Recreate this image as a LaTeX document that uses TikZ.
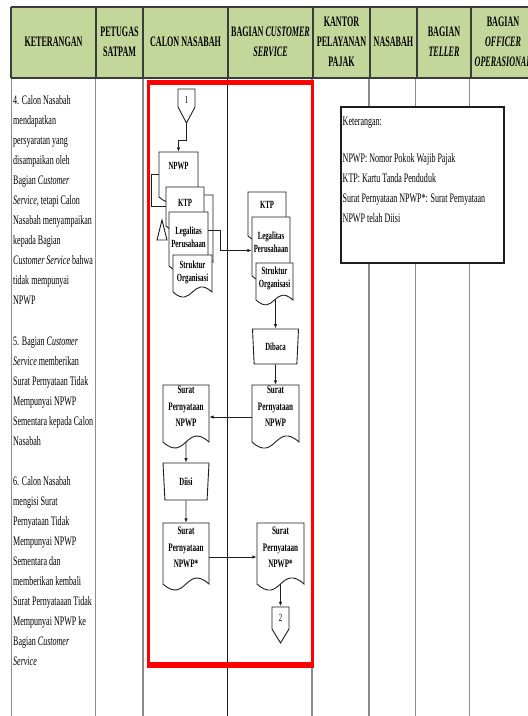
\documentclass[tikz,border=0pt]{standalone}
\usepackage{fontspec}
\setmainfont{Liberation Serif}[FakeStretch=0.62]
\newfontfamily\hdrfont{Liberation Serif}[FakeStretch=0.56]
\usetikzlibrary{shapes.geometric,arrows.meta,calc}
\definecolor{hdrgreen}{RGB}{196,215,155}
\definecolor{hdrline}{RGB}{60,60,60}
\definecolor{colgray}{RGB}{140,140,140}
\definecolor{boxred}{RGB}{255,0,0}
\definecolor{ink}{RGB}{30,30,30}

\newcommand{\docshape}[8]{%
  \pgfmathsetmacro{\dsW}{#4-#2}%
  \pgfmathsetmacro{\dsM}{(#2+#4)/2}%
  \pgfmathsetmacro{\dsC}{0.45*\dsW}%
  \pgfmathsetmacro{\dsH}{#5-#3}%
  \pgfmathsetmacro{\dsY}{(#3+#5)/2}%
  \filldraw[docline] (#2,#3) -- (#4,#3) -- (#4,#5) .. controls (\dsM,{#5-\dsC}) and (\dsM,{#5+\dsC}) .. (#2,#5) -- cycle;
  \node[inner sep=0,minimum width=\dsW bp,minimum height=\dsH bp] (#1) at (\dsM,\dsY) {};
  \node[#8] (#1-t) at (\dsM,{\dsY+#6}) {#7};
}
\newcommand{\offpage}[6]{%
  \filldraw[docline] ({#2-8.5},#3) -- ({#2+8.5},#3) -- ({#2+8.5},#4) -- (#2,#5) -- ({#2-8.5},#4) -- cycle;
  \node[inner sep=0,minimum width=17bp,minimum height=1bp] (#1) at (#2,#3) {};
  \coordinate (#1-tip) at (#2,#5);
  \node[inner sep=0,font=\fontsize{11}{12}\selectfont] (#1-t) at (#2,{#3+11}) {#6};
}

\begin{document}
\begin{tikzpicture}[x=1bp,y=-1bp,
  docline/.style={draw=ink,line width=0.9bp,fill=white},
  conn/.style={draw=ink,line width=0.9bp,-{Latex[length=4.5bp,width=3.5bp]}},
  plain/.style={draw=ink,line width=0.9bp},
  dtext/.style={inner sep=0,align=center,font=\bfseries\fontsize{11}{13.5}\selectfont},
  stext/.style={inner sep=0,align=center,font=\bfseries\fontsize{11.5}{16.5}\selectfont},
  hdr/.style={inner sep=0,align=center,font=\hdrfont\bfseries\fontsize{14.5}{20}\selectfont},
  colline/.style={draw=colgray,line width=1.3bp},
  trap/.style={trapezium,docline,shape border rotate=180,trapezium stretches body,inner sep=0,font=\bfseries\fontsize{11}{13}\selectfont}]
\useasboundingbox (0,0) rectangle (528,716);
\clip (0,0) rectangle (528,716);
\fill[white] (0,0) rectangle (528,716);

% body column lines
\foreach \cx in {11.5,95.5,143,312,369,415.5,469.5}
  \draw[colline] (\cx,78) -- (\cx,716);
\draw[draw=ink,line width=1.3bp] (227.5,78) -- (227.5,716);

% header
\fill[hdrgreen] (11,7) rectangle (540,78);
\draw[hdrline,line width=1.5bp] (11,7) -- (540,7) (11,78) -- (540,78);
\foreach \cx in {11,96,143,228,313,370,417,471}
  \draw[hdrline,line width=1.5bp] (\cx,7) -- (\cx,78);
\node[hdr] (h1) at (53.5,42) {KETERANGAN};
\node[hdr] (h2) at (119.5,42) {PETUGAS\\SATPAM};
\node[hdr] (h3) at (185.5,42) {CALON NASABAH};
\node[hdr] (h4) at (270.5,42) {BAGIAN \textit{CUSTOMER}\\\textit{SERVICE}};
\node[hdr] (h5) at (341.5,42) {KANTOR\\PELAYANAN\\PAJAK};
\node[hdr] (h6) at (393.5,42) {NASABAH};
\node[hdr] (h7) at (444,42) {BAGIAN\\\textit{TELLER}};
\node[hdr] (h8) at (503,42) {BAGIAN\\\textit{OFFICER}\\\textit{OPERASIONAL}};

% left description text
\node[anchor=north west,inner sep=0,align=left,font=\fontsize{13}{20.1}\selectfont] (desc) at (13,95.5) {%
4. Calon Nasabah\\
mendapatkan\\
persyaratan yang\\
disampaikan oleh\\
Bagian \textit{Customer}\\
\textit{Service}, tetapi Calon\\
Nasabah menyampaikan\\
kepada Bagian\\
\textit{Customer Service} bahwa\\
tidak mempunyai\\
NPWP\\[20.1bp]
5. Bagian \textit{Customer}\\
\textit{Service} memberikan\\
Surat Pernyataan Tidak\\
Mempunyai NPWP\\
Sementara kepada Calon\\
Nasabah\\[20.1bp]
6. Calon Nasabah\\
mengisi Surat\\
Pernyataan Tidak\\
Mempunyai NPWP\\
Sementara dan\\
memberikan kembali\\
Surat Pernyataaan Tidak\\
Mempunyai NPWP ke\\
Bagian \textit{Customer}\\
\textit{Service}};

% legend box
\node[draw=ink,fill=white,line width=1.3bp,minimum width=163bp,minimum height=156bp,inner sep=0] (legend) at (422.5,185) {};
\node[anchor=north west,inner sep=0,align=left,font=\fontsize{13}{20}\selectfont] (legendtext) at (342.5,117) {%
Keterangan:\\[17bp]
NPWP: Nomor Pokok Wajib Pajak\\
KTP: Kartu Tanda Penduduk\\
Surat Pernyataan NPWP*: Surat Pernyataan\\
NPWP telah Diisi};

% red frame
\draw[boxred,line width=3bp] (148.5,82.5) -- (148.5,665) (312.5,82.5) -- (312.5,665);
\draw[boxred,line width=5bp] (147,82.5) -- (314,82.5);
\draw[boxred,line width=6.5bp] (147,665) -- (314,665);

% connector 1
\offpage{cA}{186.5}{89}{107}{123}{1}

% left document stack
\docshape{npwp}{159}{152}{198}{197}{-9}{NPWP}{dtext}
\docshape{kshadow}{175}{195}{213}{262}{0}{}{dtext}
\docshape{ktpL}{166}{187}{204}{226}{-4}{KTP}{dtext}
\docshape{legL}{169}{212}{208}{266}{-2}{Legalitas\\Perusahaan}{dtext}
\docshape{strL}{173}{255}{212}{292}{-1}{Struktur\\Organisasi}{dtext}
\draw[docline] (162,220) -- (167,240) -- (157,240) -- cycle;

% right document stack
\docshape{ktpR}{248}{192}{286}{236}{-9}{KTP}{dtext}
\docshape{legR}{252}{217}{290}{276}{-4}{Legalitas\\Perusahaan}{dtext}
\docshape{strR}{256}{263}{293}{300}{-3}{Struktur\\Organisasi}{dtext}

% process symbols
\node[trap,trapezium left angle=78,trapezium right angle=78,minimum width=46bp,minimum height=35bp] (dibaca) at (275.5,346.5) {Dibaca};
\docshape{suratR}{252}{385}{299}{442}{-7}{Surat\\Pernyataan\\NPWP}{stext}
\docshape{suratL}{163}{385}{209}{442}{-7}{Surat\\Pernyataan\\NPWP}{stext}
\node[trap,trapezium left angle=76,trapezium right angle=76,minimum width=46bp,minimum height=37bp] (diisi) at (186,481.5) {Diisi};
\docshape{isiL}{163}{523}{209}{584}{-6}{Surat\\Pernyataan\\NPWP*}{stext}
\docshape{isiR}{257}{523}{304}{584}{-6}{Surat\\Pernyataan\\NPWP*}{stext}

% connector 2
\offpage{cB}{280.5}{607}{629}{643}{2}

% connectors
\draw[conn] (cA-tip) -- ++(0,17) -| (npwp.north);
\draw[plain] (npwp.west) -- ++(-7,0) |- (ktpL.west);
\draw[conn] ($(legL.east)+(0,-8.5)$) -- ++(12,0) |- ($(legR.west)+(0,4)$);
\draw[conn] (dibaca.north |- strR.south) -- (dibaca.north);
\draw[conn] (dibaca.south) -- (suratR.north);
\draw[conn] ($(suratR.west)+(0,3.5)$) coordinate (sa) -- (sa -| suratL.east);
\draw[conn] (suratL.south) -- (diisi.north);
\draw[conn] (diisi.south) -- (isiL.north);
\draw[conn] ($(isiL.east)+(0,3.5)$) coordinate (sb) -- (sb -| isiR.west);
\draw[conn] (isiR.south) -- (cB.north);
\end{tikzpicture}
\end{document}
